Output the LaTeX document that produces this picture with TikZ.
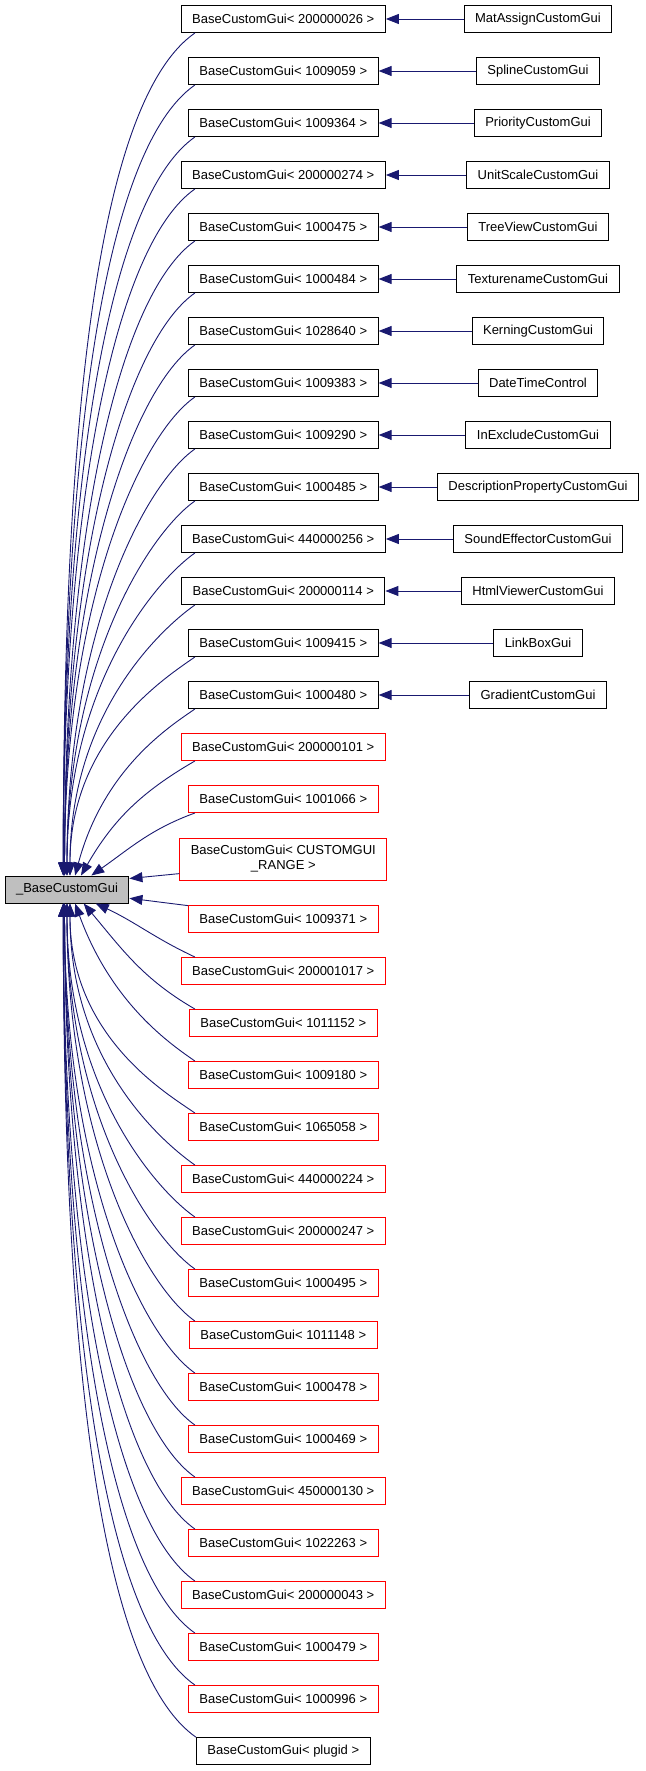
\documentclass[tikz,border=0pt]{standalone}
\usepackage{fontspec}
\setmainfont{Liberation Sans}
\usetikzlibrary{arrows.meta,positioning}
\definecolor{edgeblue}{HTML}{191970}
\definecolor{rootgray}{HTML}{BFBFBF}
\tikzstyle{box} = [draw=black, rectangle, line width=1pt, font=\fontsize{13}{15}\selectfont, inner xsep=11pt, inner ysep=7.5pt, minimum height=27pt, align=center]
\tikzstyle{redbox} = [box, draw=red]
\tikzstyle{rootbox} = [box, fill=rootgray]
\tikzstyle{line} = [draw, edgeblue, line width=0.9pt, -{Triangle[length=13pt,width=10pt]}]
\tikzstyle{arcup} = [out=215, in=90, out looseness=0.35, in looseness=1.4]
\tikzstyle{arcdown} = [out=145, in=-90, out looseness=0.35, in looseness=1.4]

\begin{document}
\begin{tikzpicture}[x=1pt, y=1pt, node distance=52pt]
	\useasboundingbox (0,0) rectangle (645,-1771);
	\node [rootbox] (base) at (67,-889.5) {\_BaseCustomGui};

	\node [box] (gui1) at (283.3,-19) {BaseCustomGui< 200000026 >};
	\node [box, below of=gui1] (gui2) {BaseCustomGui< 1009059 >};
	\node [box, below of=gui2] (gui3) {BaseCustomGui< 1009364 >};
	\node [box, below of=gui3] (gui4) {BaseCustomGui< 200000274 >};
	\node [box, below of=gui4] (gui5) {BaseCustomGui< 1000475 >};
	\node [box, below of=gui5] (gui6) {BaseCustomGui< 1000484 >};
	\node [box, below of=gui6] (gui7) {BaseCustomGui< 1028640 >};
	\node [box, below of=gui7] (gui8) {BaseCustomGui< 1009383 >};
	\node [box, below of=gui8] (gui9) {BaseCustomGui< 1009290 >};
	\node [box, below of=gui9] (gui10) {BaseCustomGui< 1000485 >};
	\node [box, below of=gui10] (gui11) {BaseCustomGui< 440000256 >};
	\node [box, below of=gui11] (gui12) {BaseCustomGui< 200000114 >};
	\node [box, below of=gui12] (gui13) {BaseCustomGui< 1009415 >};
	\node [box, below of=gui13] (gui14) {BaseCustomGui< 1000480 >};
	\node [redbox, below of=gui14] (gui15) {BaseCustomGui< 200000101 >};
	\node [redbox, below of=gui15] (gui16) {BaseCustomGui< 1001066 >};
	\node [redbox, below of=gui16, node distance=60pt] (gui17) {BaseCustomGui< CUSTOMGUI\\\_RANGE >};
	\node [redbox, below of=gui17, node distance=60pt] (gui18) {BaseCustomGui< 1009371 >};
	\node [redbox, below of=gui18] (gui19) {BaseCustomGui< 200001017 >};
	\node [redbox, below of=gui19] (gui20) {BaseCustomGui< 1011152 >};
	\node [redbox, below of=gui20] (gui21) {BaseCustomGui< 1009180 >};
	\node [redbox, below of=gui21] (gui22) {BaseCustomGui< 1065058 >};
	\node [redbox, below of=gui22] (gui23) {BaseCustomGui< 440000224 >};
	\node [redbox, below of=gui23] (gui24) {BaseCustomGui< 200000247 >};
	\node [redbox, below of=gui24] (gui25) {BaseCustomGui< 1000495 >};
	\node [redbox, below of=gui25] (gui26) {BaseCustomGui< 1011148 >};
	\node [redbox, below of=gui26] (gui27) {BaseCustomGui< 1000478 >};
	\node [redbox, below of=gui27] (gui28) {BaseCustomGui< 1000469 >};
	\node [redbox, below of=gui28] (gui29) {BaseCustomGui< 450000130 >};
	\node [redbox, below of=gui29] (gui30) {BaseCustomGui< 1022263 >};
	\node [redbox, below of=gui30] (gui31) {BaseCustomGui< 200000043 >};
	\node [redbox, below of=gui31] (gui32) {BaseCustomGui< 1000479 >};
	\node [redbox, below of=gui32] (gui33) {BaseCustomGui< 1000996 >};
	\node [box, below of=gui33] (gui34) {BaseCustomGui< plugid >};

	\node [box, right of=gui1, node distance=254.7pt] (matassign) {MatAssignCustomGui};
	\node [box, right of=gui2, node distance=254.7pt] (spline) {SplineCustomGui};
	\node [box, right of=gui3, node distance=254.7pt] (priority) {PriorityCustomGui};
	\node [box, right of=gui4, node distance=254.7pt] (unitscale) {UnitScaleCustomGui};
	\node [box, right of=gui5, node distance=254.7pt] (treeview) {TreeViewCustomGui};
	\node [box, right of=gui6, node distance=254.7pt] (texturename) {TexturenameCustomGui};
	\node [box, right of=gui7, node distance=254.7pt] (kerning) {KerningCustomGui};
	\node [box, right of=gui8, node distance=254.7pt] (datetime) {DateTimeControl};
	\node [box, right of=gui9, node distance=254.7pt] (inexclude) {InExcludeCustomGui};
	\node [box, right of=gui10, node distance=254.7pt] (descprop) {DescriptionPropertyCustomGui};
	\node [box, right of=gui11, node distance=254.7pt] (soundfx) {SoundEffectorCustomGui};
	\node [box, right of=gui12, node distance=254.7pt] (htmlview) {HtmlViewerCustomGui};
	\node [box, right of=gui13, node distance=254.7pt] (linkbox) {LinkBoxGui};
	\node [box, right of=gui14, node distance=254.7pt] (gradient) {GradientCustomGui};

	\path [line] (matassign) -- (gui1);
	\path [line] (spline) -- (gui2);
	\path [line] (priority) -- (gui3);
	\path [line] (unitscale) -- (gui4);
	\path [line] (treeview) -- (gui5);
	\path [line] (texturename) -- (gui6);
	\path [line] (kerning) -- (gui7);
	\path [line] (datetime) -- (gui8);
	\path [line] (inexclude) -- (gui9);
	\path [line] (descprop) -- (gui10);
	\path [line] (soundfx) -- (gui11);
	\path [line] (htmlview) -- (gui12);
	\path [line] (linkbox) -- (gui13);
	\path [line] (gradient) -- (gui14);

	% upper half into the top of the base class
	\path [line] (gui1.189) to[arcup] (base.105);
	\path [line] (gui2.189) to[arcup] (base.105);
	\path [line] (gui3.189) to[arcup] (base.105);
	\path [line] (gui4.189) to[arcup] (base.105);
	\path [line] (gui5.189) to[arcup] (base.100);
	\path [line] (gui6.189) to[arcup] (base.100);
	\path [line] (gui7.189) to[arcup] (base.100);
	\path [line] (gui8.189) to[arcup] (base.100);
	\path [line] (gui9.189) to[arcup] (base.90);
	\path [line] (gui10.189) to[arcup] (base.90);
	\path [line] (gui11.189) to[arcup] (base.90);
	\path [line] (gui12.189) to[arcup] (base.78);
	\path [line] (gui13.189) to[arcup] (base.78);
	\path [line] (gui14.189) to[arcup, in=75] (base.60);
	\path [line] (gui15.189) to[out=210, in=60] (base.45);
	\path [line] (gui16.189) to[out=200, in=35] (base.30);
	\path [line] (gui17.188) -- (base.10);
	\path [line] (gui18.172) -- (base.-8);

	% lower half into the bottom
	\path [line] (gui19.171) to[out=155, in=-25] (base.-26);
	\path [line] (gui20.171) to[out=150, in=-50] (base.-40);
	\path [line] (gui21.171) to[arcdown, in=-70] (base.-60);
	\path [line] (gui22.171) to[arcdown] (base.-78);
	\path [line] (gui23.171) to[arcdown] (base.-78);
	\path [line] (gui24.171) to[arcdown] (base.-90);
	\path [line] (gui25.171) to[arcdown] (base.-90);
	\path [line] (gui26.171) to[arcdown] (base.-90);
	\path [line] (gui27.171) to[arcdown] (base.-100);
	\path [line] (gui28.171) to[arcdown] (base.-100);
	\path [line] (gui29.171) to[arcdown] (base.-100);
	\path [line] (gui30.171) to[arcdown] (base.-100);
	\path [line] (gui31.171) to[arcdown] (base.-105);
	\path [line] (gui32.171) to[arcdown] (base.-105);
	\path [line] (gui33.171) to[arcdown] (base.-105);
	\path [line] (gui34.171) to[arcdown] (base.-105);
\end{tikzpicture}
\end{document}
